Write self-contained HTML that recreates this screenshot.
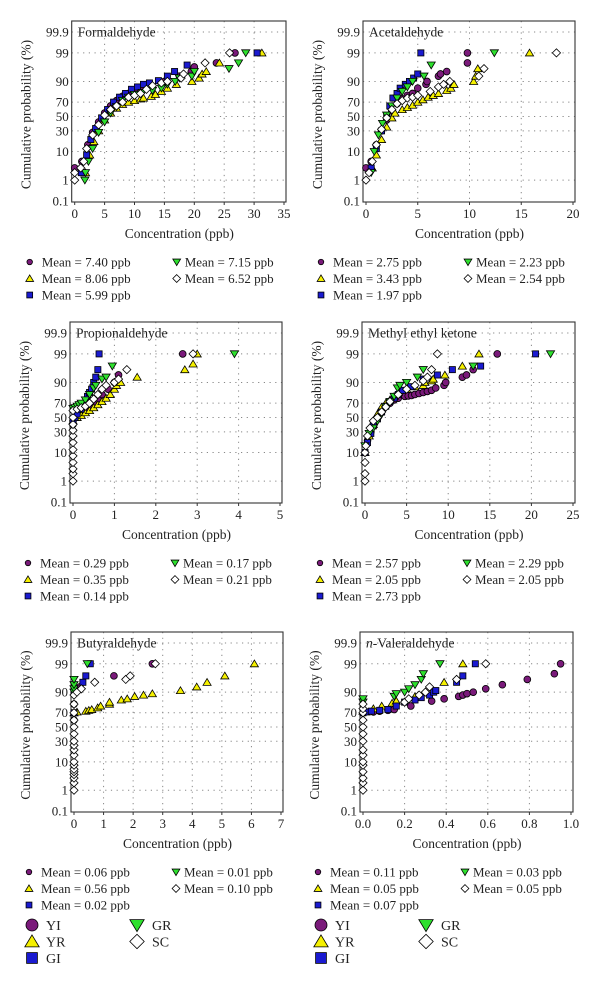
<!DOCTYPE html>
<html><head><meta charset="utf-8"><style>
html,body{margin:0;padding:0;background:#fff;}
svg{display:block;font-family:"Liberation Serif",serif;}
</style></head><body>
<svg id="chart" width="600" height="988" viewBox="0 0 600 988" xmlns="http://www.w3.org/2000/svg"></svg>
<script>
// ---------- data (x = concentration ppb, p = cumulative %) ----------
// Panel 1 Formaldehyde
const p1_YI_x=[0,1.2,2.2,3,4,5,6,7,8,9,10,11.3,15,17.5,19.5,20,23.7,26.8];
const p1_YI_p=[3,5,15,28,42,55,65,72,77,80,83,86,90,93,95,96.5,97.5,99];
const p1_YR_x=[1.8,2.5,3.2,4,5,6,7,8,9,10,11,11.5,12.8,13.5,14.5,15.5,17,19.6,20.8,21.3,22,24.2,31.3];
const p1_YR_p=[2,8,18,30,45,55,62,67,70,72,74,75,77,79,82,85,88,90,92,94,95,97.5,99];
const p1_GI_x=[1.1,2,2.7,3.5,4.5,5.5,6.5,7.5,8.5,9.5,10.5,11.5,12.5,14,15.5,16.7,18.8,30.5];
const p1_GI_p=[2,8,20,33,48,60,70,76,80,84,86,88,89,90.5,93,95,97,99];
const p1_GR_x=[1.7,1.8,2.3,3,4,5,6,7,8,9,10,11.3,13,14.5,15.5,16.8,17.5,19.6,20,25.8,27.4,28.6];
const p1_GR_p=[1,2,5,12,28,42,55,64,72,76,79,81,83,85,88,90,92,93,95,96,97.5,99];
const p1_SC_x=[0,0,1,1.5,2,3,4,5,6,7,8,9,10,11,12,13,14.5,15.5,17.8,18.2,21.8,25.9];
const p1_SC_p=[1,2,3,5,12,25,38,52,60,65,70,76,78,80,84,87,89,90,92,94,97.5,99];
// Panel 2 Acetaldehyde
const p2_YI_x=[0,0.5,1,1.5,2,2.5,3,3.5,4,4.5,5,5.8,5.9,7,7.2,7.8,9.8,9.8];
const p2_YI_p=[3,5,15,30,45,58,68,74,78,80,85,88,90,93,94,95,97.5,99];
const p2_YR_x=[0.6,1,1.5,2,2.5,2.8,3.5,4,4.5,5,5.5,6,6.5,7,7.8,8.2,8.5,10.4,10.6,10.8,15.8];
const p2_YR_p=[3,8,20,35,48,55,60,63,66,70,73,76,78,80,83,85,88,90,93,96,99];
const p2_GI_x=[0.5,1,1.5,2,2.3,2.6,3,3.3,3.8,4.2,4.6,5,5.3];
const p2_GI_p=[3,12,30,50,65,75,80,85,88,90,92,94,99];
const p2_GR_x=[0.5,0.8,1.2,1.6,2,2.5,3,3.5,4,4.5,5.6,6.3,12.4];
const p2_GR_p=[2,10,25,40,52,65,75,82,86,90,93,97,99];
const p2_SC_x=[0,0.3,0.6,1,1.5,2,2.5,3,3.5,4,4.5,5,6.2,7,7.5,8.1,10.9,11.4,18.4];
const p2_SC_p=[1,2,5,15,32,48,60,68,72,75,76,78,82,86,88,90,93,96,99];
// Panel 3 Propionaldehyde
const p3_YI_x=[0,0,0.05,0.1,0.2,0.3,0.4,0.5,0.6,0.7,0.85,1,1.1,2.65];
const p3_YI_p=[40,45,50,55,58,62,66,70,75,80,85,90,94,99];
const p3_YR_x=[0,0.1,0.2,0.3,0.4,0.5,0.6,0.7,0.8,0.9,1,1.05,1.15,1.55,2.7,2.9,3];
const p3_YR_p=[45,50,53,57,60,64,68,72,76,80,85,88,90,93,96,97.5,99];
const p3_GI_x=[0,0.05,0.1,0.2,0.3,0.35,0.4,0.45,0.5,0.55,0.6,0.63];
const p3_GI_p=[45,50,55,62,70,78,82,85,90,93,96,99];
const p3_GR_x=[0,0.05,0.1,0.15,0.2,0.3,0.4,0.5,0.55,0.7,0.8,0.95,3.9];
const p3_GR_p=[63,64,66,68,70,74,80,86,88,92,93,97,99];
const p3_SC_x=[0,0,0,0,0,0,0,0,0,0,0,0,0.1,0.2,0.3,0.4,0.5,0.6,0.7,0.8,1.0,1.1,1.3,2.9];
const p3_SC_p=[1,2,3,5,8,12,18,25,32,40,50,60,62,64,66,70,75,80,85,88,90,92,96,99];
// Panel 4 Methyl ethyl ketone
const p4_YI_x=[0,0.3,0.7,1,1.5,2,2.5,3,3.5,4,4.8,5.2,5.6,6,6.5,7,7.5,8,8.5,9.5,9.7,11.7,12.2,13,15.9];
const p4_YI_p=[10,20,30,40,50,60,66,70,74,76,78,78.5,79,80,81,82,83,84,86,88,90,93,94,96,99];
const p4_YR_x=[0,0.5,1,1.5,2,2.5,3,3.5,4,5,6,7,7.2,8,8.2,9.6,11.7,13.7];
const p4_YR_p=[10,25,40,55,65,70,74,78,82,85,87,88,90,91,92,94,97,99];
const p4_GI_x=[0,0.3,0.7,1,1.5,2,2.5,3,3.5,4,4.5,5.5,7,8.7,10.5,13.9,20.5];
const p4_GI_p=[10,18,28,38,48,58,66,72,76,80,84,87,92,94,96,97,99];
const p4_GR_x=[0,0.5,1,1.5,2,2.5,3,3.5,3.9,4.2,5,6.3,7,13,22.3];
const p4_GR_p=[15,28,35,45,55,65,72,78,86,88,90,93,96,97,99];
const p4_SC_x=[0,0,0,0,0.1,0.3,0.6,1,1.5,2,2.5,3,4,5,6,7,7.5,8,8.7];
const p4_SC_p=[1,2,5,10,15,25,35,45,50,58,65,72,80,85,88,91,93,96,99];
// Panel 5 Butyraldehyde
const p5_YI_x=[0,0,0.2,1.35,2.65];
const p5_YI_p=[60,80,93,97,99];
const p5_YR_x=[0,0.1,0.4,0.5,0.6,0.8,0.9,1.2,1.2,1.6,1.8,2.05,2.35,2.65,3.6,4.15,4.5,5.1,6.1];
const p5_YR_p=[70,71,72,73,74,76,78,80,82,84,85,87,88,89,91,93,95,97,99];
const p5_GI_x=[0,0,0.3,0.4,0.55];
const p5_GI_p=[70,90,95,97,99];
const p5_GR_x=[0,0,0,0,0.45];
const p5_GR_p=[90,92,94,96,99];
const p5_SC_x=[0,0,0,0,0,0,0,0,0,0,0,0,0,0,0,0,0,0,0.1,0.25,0.7,1.75,1.9,2.75];
const p5_SC_p=[1,2,3,4,5,6,8,10,15,20,25,30,40,50,60,70,80,88,90,92,95,96,97,99];
// Panel 6 n-Valeraldehyde
const p6_YI_x=[0,0.05,0.08,0.12,0.15,0.23,0.33,0.39,0.46,0.48,0.5,0.53,0.59,0.67,0.79,0.92,0.95];
const p6_YI_p=[70,71,72,73,74,78,83,85,87,88,89,90,92,94,96,97.5,99];
const p6_YR_x=[0,0.05,0.09,0.14,0.16,0.25,0.39,0.48];
const p6_YR_p=[72,75,78,81,83,87,95,99];
const p6_GI_x=[0,0.02,0.04,0.08,0.12,0.16,0.2,0.25,0.28,0.32,0.34,0.35,0.45,0.48,0.54];
const p6_GI_p=[70,71,72,73,74,78,82,84,86,88,90,91,95,97,99];
const p6_GR_x=[0,0,0.15,0.16,0.2,0.22,0.25,0.28,0.29,0.37];
const p6_GR_p=[82,85,87,89,90,92,94,96,97.5,99];
const p6_SC_x=[0,0,0,0,0,0,0,0,0,0,0,0,0,0,0,0.2,0.22,0.27,0.3,0.32,0.45,0.59];
const p6_SC_p=[1,2,3,5,8,10,15,20,30,40,50,60,70,75,80,82,85,88,90,93,96,99];

const yTickLabels=["0.1","1","10","30","50","70","90","99","99.9"];
const yTickValues=[0.1,1,10,30,50,70,90,99,99.9];
const p1_means=["7.40","8.06","5.99","7.15","6.52"];
const p2_means=["2.75","3.43","1.97","2.23","2.54"];
const p3_means=["0.29","0.35","0.14","0.17","0.21"];
const p4_means=["2.57","2.05","2.73","2.29","2.05"];
const p5_means=["0.06","0.56","0.02","0.01","0.10"];
const p6_means=["0.11","0.05","0.07","0.03","0.05"];
const speciesNames=["YI","YR","GI","GR","SC"];

// ---------- rendering ----------
const NS="http://www.w3.org/2000/svg";
const svg=document.getElementById('chart');
function mk(tag,attrs,parent){const e=document.createElementNS(NS,tag);for(const k in attrs)e.setAttribute(k,attrs[k]);(parent||svg).appendChild(e);return e;}
function invNorm(p){
 const a=[-39.69683028665376,220.9460984245205,-275.9285104469687,138.357751867269,-30.66479806614716,2.506628277459239];
 const b=[-54.47609879822406,161.5858368580409,-155.6989798598866,66.80131188771972,-13.28068155288572];
 const c=[-0.007784894002430293,-0.3223964580411365,-2.400758277161838,-2.549732539343734,4.374664141464968,2.938163982698783];
 const d=[0.007784695709041462,0.3224671290700398,2.445134137142996,3.754408661907416];
 const pl=0.02425;let q,r;
 if(p<pl){q=Math.sqrt(-2*Math.log(p));return (((((c[0]*q+c[1])*q+c[2])*q+c[3])*q+c[4])*q+c[5])/((((d[0]*q+d[1])*q+d[2])*q+d[3])*q+1);}
 if(p>1-pl){q=Math.sqrt(-2*Math.log(1-p));return -(((((c[0]*q+c[1])*q+c[2])*q+c[3])*q+c[4])*q+c[5])/((((d[0]*q+d[1])*q+d[2])*q+d[3])*q+1);}
 q=p-0.5;r=q*q;return (((((a[0]*r+a[1])*r+a[2])*r+a[3])*r+a[4])*r+a[5])*q/(((((b[0]*r+b[1])*r+b[2])*r+b[3])*r+b[4])*r+1);
}
const COL={YI:'#7a1a7a',YR:'#f5f000',GI:'#1a1ad0',GR:'#2ee02e',SC:'#ffffff'};
function marker(sp,cx,cy,s,parent){
 let e;
 if(sp==='YI') e=mk('circle',{cx:cx,cy:cy,r:s*0.5},parent);
 else if(sp==='YR') e=mk('polygon',{points:`${cx},${cy-s*0.55} ${cx+s*0.6},${cy+s*0.45} ${cx-s*0.6},${cy+s*0.45}`},parent);
 else if(sp==='GI') e=mk('rect',{x:cx-s*0.45,y:cy-s*0.45,width:s*0.9,height:s*0.9},parent);
 else if(sp==='GR') e=mk('polygon',{points:`${cx-s*0.6},${cy-s*0.45} ${cx+s*0.6},${cy-s*0.45} ${cx},${cy+s*0.55}`},parent);
 else e=mk('polygon',{points:`${cx},${cy-s*0.6} ${cx+s*0.6},${cy} ${cx},${cy+s*0.6} ${cx-s*0.6},${cy}`},parent);
 e.setAttribute('fill',COL[sp]);e.setAttribute('stroke','#000');e.setAttribute('stroke-width','0.8');
 return e;
}
function drawPanel(cfg,series,means){
 const g=mk('g',{});
 
 
 const zTop=invNorm(0.999),zBot=invNorm(0.001);
 const X=v=>cfg.x0+(v/cfg.xmax)*(cfg.x1-cfg.x0);
 const Y=p=>cfg.yb+(invNorm(p/100)-zBot)/(zTop-zBot)*(cfg.yt-cfg.yb);
 const L=cfg.x0-3,R=cfg.x1+2,T=cfg.yt-11,B=cfg.yb+1;
 for(let i=1;i*cfg.step<cfg.xmax-1e-9;i++){const gx=X(i*cfg.step);const l=mk('line',{x1:gx,x2:gx,y1:T,y2:B,stroke:'#888','stroke-width':1,'stroke-dasharray':'1.2,4.5'},g);}
 yTickValues.forEach((v,i)=>{if(i===0)return;const gy=Y(v);const l=mk('line',{x1:L,x2:R,y1:gy,y2:gy,stroke:'#888','stroke-width':1,'stroke-dasharray':'1.2,4.5'},g);});
 const fr=mk('rect',{x:L,y:T,width:R-L,height:B-T,fill:'none',stroke:'#333','stroke-width':1.1},g);
 
 yTickValues.forEach((v,i)=>{const t=mk('text',{x:cfg.x0-6,y:Y(v)+4.5,'text-anchor':'end','font-size':13,fill:'#222'},g);t.textContent=yTickLabels[i];});
 const n=Math.round(cfg.xmax/cfg.step);
 for(let i=0;i<=n;i++){const v=i*cfg.step;mk('line',{x1:X(v),x2:X(v),y1:B,y2:B+3,stroke:'#333'},g);const t=mk('text',{x:X(v),y:cfg.yb+17,'text-anchor':'middle','font-size':13,fill:'#222'},g);t.textContent=cfg.dec?v.toFixed(1):String(Math.round(v));}
 const xt=mk('text',{x:(cfg.x0+cfg.x1)/2,y:cfg.yb+37,'text-anchor':'middle','font-size':13.5,fill:'#222'},g);xt.textContent='Concentration (ppb)';
 const ycx=cfg.x0-44,ycy=(cfg.yt+cfg.yb)/2-2;
 const yt=mk('text',{x:ycx,y:ycy,'text-anchor':'middle','font-size':13.5,fill:'#222',transform:`rotate(-90 ${ycx} ${ycy})`},g);yt.textContent='Cumulative probability (%)';
 const tt=mk('text',{x:cfg.x0+3,y:cfg.yt+4.5,'font-size':13.5,fill:'#222'},g);
 if(cfg.italicN){const ts=mk('tspan',{'font-style':'italic'},tt);ts.textContent='n';const t2=mk('tspan',{},tt);t2.textContent='-Valeraldehyde';}else tt.textContent=cfg.title;
 
 speciesNames.forEach((sp,si)=>{
  const xs=series[si][0],ps=series[si][1];
  const sg=mk('g',{},g);
  xs.forEach((xv,i)=>{const m=marker(sp,X(xv),Y(ps[i]),6.8,sg);});
 });
 const pos=[[0,0],[0,1],[0,2],[1,0],[1,1]];
 speciesNames.forEach((sp,si)=>{
  const col=pos[si][0],row=pos[si][1];
  const mx=col? cfg.x0+102 : cfg.x0-45, tx=col? cfg.x0+110 : cfg.x0-33;
  const cy=cfg.yb+61+row*16.5;
  const lg=mk('g',{},g);
  marker(sp,mx,cy,sp==='YI'?5.5:6.5,lg);
  const t=mk('text',{x:tx,y:cy+4.5,'font-size':13,fill:'#222'},lg);t.textContent='Mean = '+means[si]+' ppb';
 });
 if(cfg.species){
  const spos=[[0,0],[0,1],[0,2],[1,0],[1,1]];
  speciesNames.forEach((sp,si)=>{
   const col=spos[si][0],row=spos[si][1];
   const mx=col? cfg.x0+63 : cfg.x0-42, tx=col? cfg.x0+78 : cfg.x0-28;
   const cy=cfg.yb+114+row*16.5;
   const lg=mk('g',{},g);
   marker(sp,mx,cy,12,lg);
   const t=mk('text',{x:tx,y:cy+5,'font-size':14,fill:'#222'},lg);t.textContent=sp;
  });
 }
}
drawPanel({key:'formaldehyde',title:'Formaldehyde',x0:74.7,x1:284,xmax:35,step:5,yt:32,yb:201},
 [[p1_YI_x,p1_YI_p],[p1_YR_x,p1_YR_p],[p1_GI_x,p1_GI_p],[p1_GR_x,p1_GR_p],[p1_SC_x,p1_SC_p]],p1_means);
drawPanel({key:'acetaldehyde',title:'Acetaldehyde',x0:366,x1:573,xmax:20,step:5,yt:32,yb:201},
 [[p2_YI_x,p2_YI_p],[p2_YR_x,p2_YR_p],[p2_GI_x,p2_GI_p],[p2_GR_x,p2_GR_p],[p2_SC_x,p2_SC_p]],p2_means);
drawPanel({key:'propionaldehyde',title:'Propionaldehyde',x0:73,x1:280,xmax:5,step:1,yt:333,yb:502},
 [[p3_YI_x,p3_YI_p],[p3_YR_x,p3_YR_p],[p3_GI_x,p3_GI_p],[p3_GR_x,p3_GR_p],[p3_SC_x,p3_SC_p]],p3_means);
drawPanel({key:'methyl-ethyl-ketone',title:'Methyl ethyl ketone',x0:365,x1:573,xmax:25,step:5,yt:333,yb:502},
 [[p4_YI_x,p4_YI_p],[p4_YR_x,p4_YR_p],[p4_GI_x,p4_GI_p],[p4_GR_x,p4_GR_p],[p4_SC_x,p4_SC_p]],p4_means);
drawPanel({key:'butyraldehyde',title:'Butyraldehyde',x0:74,x1:281,xmax:7,step:1,yt:643,yb:811,species:true},
 [[p5_YI_x,p5_YI_p],[p5_YR_x,p5_YR_p],[p5_GI_x,p5_GI_p],[p5_GR_x,p5_GR_p],[p5_SC_x,p5_SC_p]],p5_means);
drawPanel({key:'n-valeraldehyde',title:'n-Valeraldehyde',italicN:true,x0:363,x1:571,xmax:1,step:0.2,dec:true,yt:643,yb:811,species:true},
 [[p6_YI_x,p6_YI_p],[p6_YR_x,p6_YR_p],[p6_GI_x,p6_GI_p],[p6_GR_x,p6_GR_p],[p6_SC_x,p6_SC_p]],p6_means);
</script>
</body></html>
